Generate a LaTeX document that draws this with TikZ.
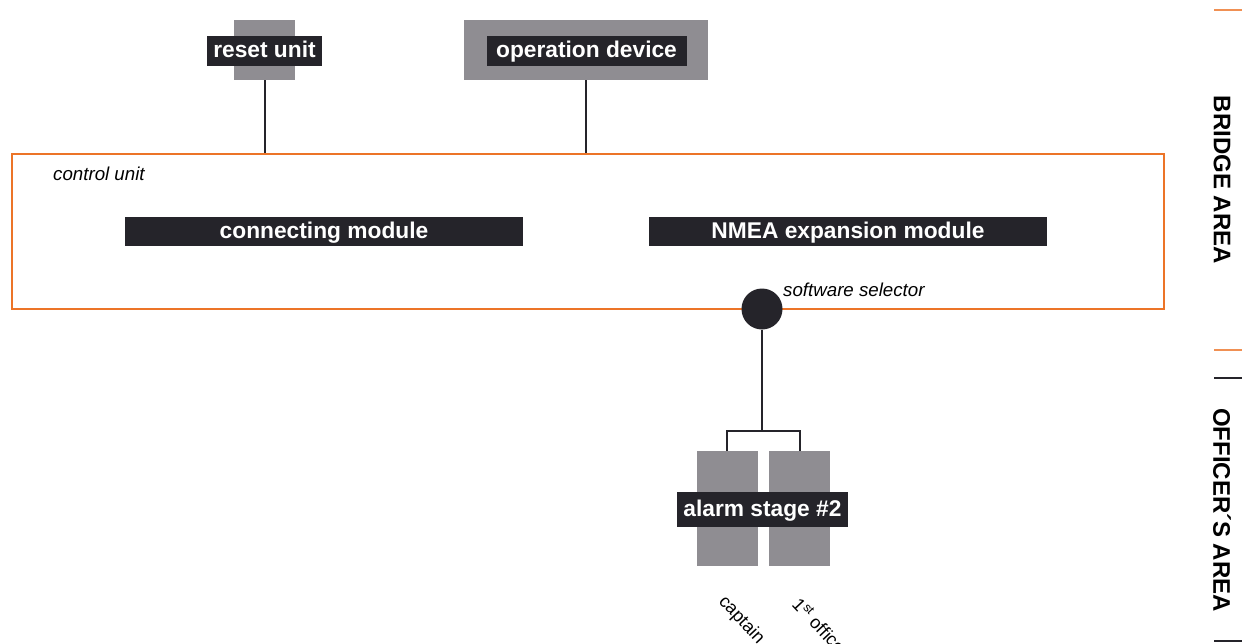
\documentclass[tikz,border=0pt]{standalone}
\usepackage{fontspec}
\setmainfont{Liberation Sans}
\definecolor{og}{HTML}{EC7428}
\definecolor{gy}{HTML}{8F8D92}
\definecolor{dk}{HTML}{25242A}
\begin{document}
\begin{tikzpicture}[x=1pt,y=-1pt,
  graybox/.style={fill=gy,draw=none,inner sep=0pt},
  lbl/.style={fill=dk,text=white,font=\fontsize{22.75}{26}\selectfont\bfseries,inner xsep=6pt,inner ysep=0pt,minimum height=30pt,text height=13pt,text depth=0pt},
  bar/.style={fill=dk,text=white,font=\fontsize{22.75}{26}\selectfont\bfseries,inner sep=0pt,minimum height=29pt,minimum width=398pt,text height=13pt,text depth=0pt},
  itl/.style={font=\fontsize{18.7}{22}\selectfont\itshape,inner sep=0pt},
  area/.style={font=\fontsize{24}{28}\selectfont\bfseries,rotate=-90,inner sep=0pt},
  conn/.style={line width=2pt,draw=dk},
  tick/.style={line width=2.5pt}]
\useasboundingbox (0,0) rectangle (1242,643);
% bridge area devices
\node[graybox,minimum width=61pt,minimum height=60pt] (rbox) at (264.5,50) {};
\node[lbl] (rlbl) at (264.5,50.5) {reset unit};
\node[graybox,minimum width=244pt,minimum height=60pt] (obox) at (586,50) {};
\node[lbl,minimum width=200pt] (olbl) at (586.5,50.5) {operation device};
% control unit
\node[draw=og,line width=2pt,minimum width=1152pt,minimum height=155pt,inner sep=0pt] (cu) at (588,231.5) {};
\node[itl,anchor=base west] (cutxt) at (53,180) {control unit};
\node[bar] (cm) at (324,231.5) {connecting module};
\node[bar] (nm) at (848,231.5) {NMEA expansion module};
\draw[conn] (rbox.south) -- (rbox.south |- cu.north);
\draw[conn] (obox.south) -- (obox.south |- cu.north);
% software selector
\node[circle,fill=dk,minimum size=41pt,inner sep=0pt] (ss) at (762,309) {};
\node[itl,anchor=base west] (sstxt) at (783,296) {software selector};
% alarm stage
\node[graybox,minimum width=61pt,minimum height=115pt] (cap) at (727,508.5) {};
\node[graybox,minimum width=61pt,minimum height=115pt] (off) at (799.5,508.5) {};
\node[lbl,minimum height=35pt,inner xsep=6pt] (alarm) at (762.5,509.5) {alarm stage \#2};
\coordinate (split) at (762,431);
\draw[conn] (ss.south) -- (split);
\draw[conn] (cap.north) -- (cap.north |- split) -- (off.north |- split) -- (off.north);
\node[font=\fontsize{18}{20}\selectfont,rotate=-47,anchor=base west,inner sep=0pt] (captxt) at (718,602) {captain};
\node[font=\fontsize{18}{20}\selectfont,rotate=-47,anchor=base west,inner sep=0pt] (offtxt) at (791,605) {1\textsuperscript{st} officer};
% right side areas
\coordinate (t1a) at (1214,10); \coordinate (t1b) at (1242,10);
\coordinate (t2a) at (1214,350); \coordinate (t2b) at (1242,350);
\coordinate (t3a) at (1214,378); \coordinate (t3b) at (1242,378);
\coordinate (t4a) at (1214,641); \coordinate (t4b) at (1242,641);
\draw[tick,draw=og!80] (t1a) -- (t1b);
\draw[tick,draw=og!80] (t2a) -- (t2b);
\draw[tick,draw=dk] (t3a) -- (t3b);
\draw[tick,draw=dk] (t4a) -- (t4b);
\node[area] (bridge) at (1222,180) {BRIDGE AREA};
\node[area] (officer) at (1222,510) {OFFICER´S AREA};
\end{tikzpicture}
\end{document}
